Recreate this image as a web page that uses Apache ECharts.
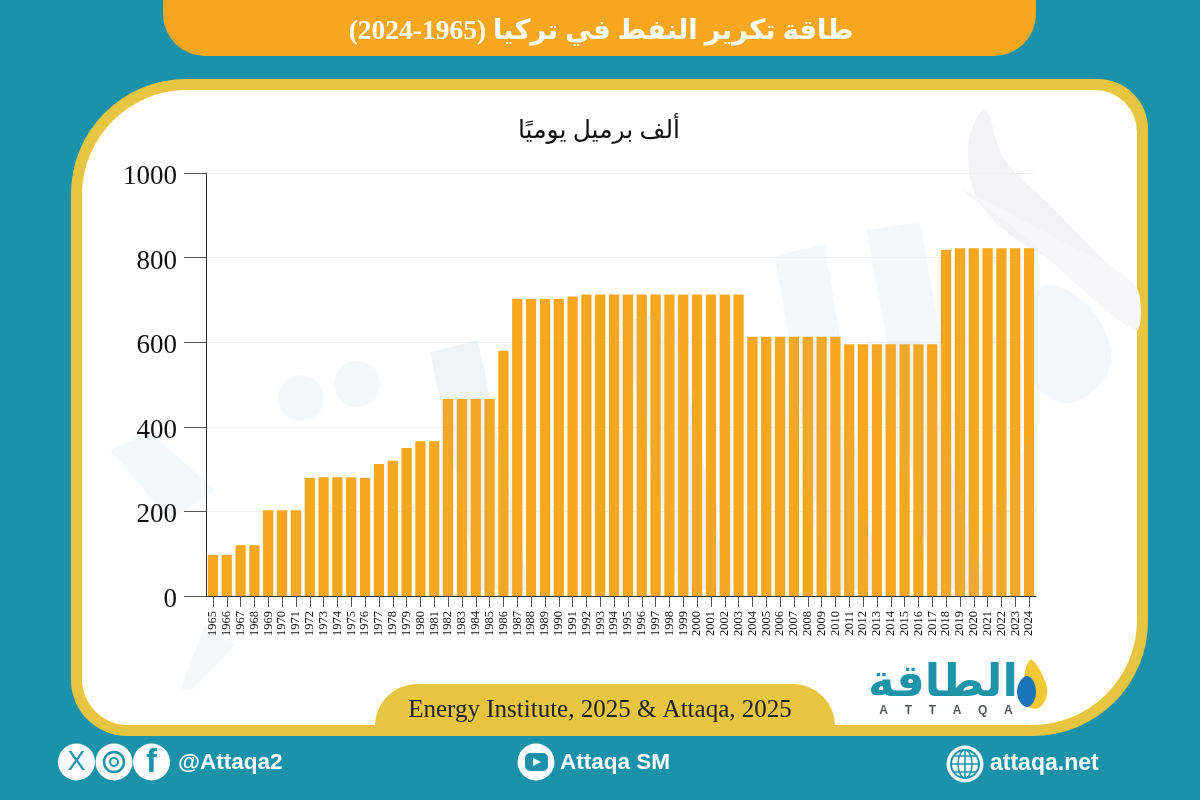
<!DOCTYPE html>
<html>
<head>
<meta charset="utf-8">
<style>
html, body { margin: 0; padding: 0; background: #1b92a9; }
#main { width: 1200px; height: 800px; }
</style>
<script src="https://cdn.jsdelivr.net/npm/echarts@6/dist/echarts.min.js"></script>
</head>
<body>
<div id="main"></div>
<script>
var years = ['1965','1966','1967','1968','1969','1970','1971','1972','1973','1974','1975','1976','1977','1978','1979','1980','1981','1982','1983','1984','1985','1986','1987','1988','1989','1990','1991','1992','1993','1994','1995','1996','1997','1998','1999','2000','2001','2002','2003','2004','2005','2006','2007','2008','2009','2010','2011','2012','2013','2014','2015','2016','2017','2018','2019','2020','2021','2022','2023','2024'];
var capacity = [97,97,120,120,203,203,203,279,281,281,281,279,312,320,350,366,366,466,466,466,466,580,702,702,702,702,708,713,713,713,713,713,713,713,713,713,713,713,713,613,613,613,613,613,613,613,595,595,595,595,595,595,595,818,822,822,822,822,822,822];
// digits run right to left after Arabic text, so this shows as (2024-1965)
var titleText = '\u202Bطاقة تكرير النفط في تركيا (1965-2024)\u202C';
var unitText = 'ألف برميل يوميًا';
var sourceText = 'Energy Institute, 2025 & Attaqa, 2025';

var TEAL = '#1b92a9', GOLD = '#e6c640', ORANGE = '#f8a71e', WASH = '#f5f8fb';
var serif = '"Liberation Serif", "DejaVu Sans", serif';
var sans = '"Liberation Sans", sans-serif';

function box(x, y, w, h, r, fill, z) {
	return { type: 'rect', z: z, shape: { x: x, y: y, width: w, height: h, r: r }, style: { fill: fill } };
}
function disc(x, y, r, fill, z) {
	return { type: 'circle', z: z, shape: { cx: x, cy: y, r: r }, style: { fill: fill } };
}
function quad(points, fill, z, opacity, smooth) {
	return { type: 'polygon', z: z, shape: { points: points, smooth: smooth || 0 }, style: { fill: fill, opacity: opacity === undefined ? 1 : opacity } };
}
function label(text, x, y, font, fill, align, z) {
	return { type: 'text', z: z, x: x, y: y, style: { text: text, font: font, fill: fill, align: align || 'left', verticalAlign: 'middle' } };
}
function ring(x, y, r, width, colour, z) {
	return { type: 'circle', z: z, shape: { cx: x, cy: y, r: r }, style: { fill: 'none', stroke: colour, lineWidth: width } };
}
function rule(x1, y1, x2, y2, colour, width, z) {
	return { type: 'line', z: z, shape: { x1: x1, y1: y1, x2: x2, y2: y2 }, style: { stroke: colour, lineWidth: width } };
}

var decor = [
	// frame
	box(71, 79, 1077, 657, [115, 50, 115, 56], GOLD, -9),
	box(82, 90, 1055, 635, [105, 42, 105, 46], '#ffffff', -8),
	// header and source pills
	box(163, 0, 873, 56, [0, 0, 42, 42], ORANGE, -7),
	box(375, 684, 460, 52, [42, 42, 0, 0], GOLD, -7),
	// watermark behind the bars
	disc(301, 398, 23, WASH, -6),
	disc(357, 384, 23, WASH, -6),
	quad([[430, 352], [478, 340], [530, 590], [480, 590]], WASH, -6),
	quad([[622, 322], [672, 310], [730, 590], [680, 590]], WASH, -6),
	quad([[775, 256], [825, 244], [880, 590], [830, 590]], WASH, -6),
	quad([[866, 230], [920, 222], [985, 590], [935, 590]], WASH, -6),
	quad([[110, 450], [150, 432], [215, 490], [170, 520]], WASH, -6),
	quad([[180, 690], [205, 625], [235, 645], [192, 690]], '#f6f7f8', -6),
	quad([[985, 110], [968, 150], [985, 210], [1060, 265], [1125, 290], [1060, 215], [1005, 160]], '#f3f3f5', -6, 1, 0.4),
	quad([[962, 190], [1010, 225], [1135, 330], [1135, 285], [1050, 235]], '#f7f7f9', -6, 1, 0.3),
	quad([[1050, 285], [1110, 345], [1080, 400], [1035, 385], [1025, 335]], '#f3f6fa', -6, 1, 0.5),
	// bar wash over the marks
	quad([[430, 352], [478, 340], [530, 596], [480, 596]], '#b9b9a8', 10, 0.06),
	quad([[622, 322], [672, 310], [730, 596], [680, 596]], '#b9b9a8', 10, 0.06),
	quad([[775, 340], [825, 340], [880, 596], [830, 596]], '#b9b9a8', 10, 0.07),
	quad([[866, 340], [920, 340], [985, 596], [935, 596]], '#b9b9a8', 10, 0.07),
	quad([[960, 596], [1036, 420], [1036, 596]], '#b9b9a8', 10, 0.08),
	// logo
	label('الطاقة', 943, 684, 'bold 45px "DejaVu Sans"', '#1f93a8', 'center', 5),
	label('A     T     T     A     Q     A', 946, 711, 'bold 12px ' + sans, '#55595c', 'center', 5),
	quad([[1030, 660], [1047, 688], [1039, 708], [1024, 702]], '#f2c933', 5, 1, 0.4),
	quad([[1027, 676], [1036, 692], [1027, 707], [1017, 692]], '#1c74b8', 6, 1, 0.5),
	// social row
	disc(76.5, 762, 18.5, '#ffffff', 5),
	disc(114, 762, 18.5, '#ffffff', 5),
	disc(151.5, 762, 18.5, '#ffffff', 5),
	label('X', 76.5, 763, '27px ' + sans, TEAL, 'center', 6),
	ring(114, 762, 10, 2.5, TEAL, 6),
	ring(114, 762, 4, 2, TEAL, 6),
	label('f', 151.5, 763, 'bold 33px ' + sans, TEAL, 'center', 6),
	label('@Attaqa2', 178, 763, 'bold 22.5px ' + sans, '#ffffff', 'left', 6),
	disc(536, 762, 18.5, '#ffffff', 5),
	box(525, 753, 23, 18, 5, TEAL, 6),
	quad([[533, 758], [541, 762], [533, 766]], '#ffffff', 7),
	label('Attaqa SM', 560, 763, 'bold 22.5px ' + sans, '#ffffff', 'left', 6),
	disc(965, 764, 18.5, '#ffffff', 5),
	ring(965, 764, 14, 2, TEAL, 6),
	{ type: 'ellipse', z: 6, shape: { cx: 965, cy: 764, rx: 7, ry: 14 }, style: { fill: 'none', stroke: TEAL, lineWidth: 1.5 } },
	rule(951, 764, 979, 764, TEAL, 1.5, 6),
	rule(965, 750, 965, 778, TEAL, 1.5, 6),
	rule(954, 756, 976, 756, TEAL, 1.5, 6),
	rule(954, 772, 976, 772, TEAL, 1.5, 6),
	label('attaqa.net', 990, 764, 'bold 23px ' + sans, '#ffffff', 'left', 6)
];

var chart = echarts.init(document.getElementById('main'), null, { renderer: 'canvas' });
chart.setOption({
	animation: false,
	backgroundColor: TEAL,
	title: [
		{ text: titleText, left: 596, top: 13, textAlign: 'center', textStyle: { color: '#ffffff', fontFamily: serif, fontWeight: 'bold', fontSize: 27.5 } },
		{ text: unitText, left: 594, top: 114, textAlign: 'center', textStyle: { color: '#111111', fontFamily: serif, fontWeight: 'normal', fontSize: 25 } },
		{ text: sourceText, left: 595, top: 693, textAlign: 'center', textStyle: { color: '#222222', fontFamily: serif, fontWeight: 'normal', fontSize: 25 } }
	],
	grid: { left: 206, right: 164, top: 173, bottom: 204 },
	xAxis: {
		type: 'category',
		data: years,
		z: 1,
		axisLine: { lineStyle: { color: '#333333', width: 1 } },
		axisTick: { show: true, alignWithLabel: true, length: 11, lineStyle: { color: '#555555' } },
		axisLabel: { interval: 0, rotate: 90, margin: 15, fontFamily: serif, fontSize: 12.5, color: '#111111' }
	},
	yAxis: {
		type: 'value',
		min: 0,
		max: 1000,
		interval: 200,
		z: 1,
		axisLine: { show: true, lineStyle: { color: '#333333', width: 1 } },
		axisTick: { show: true, length: 22, lineStyle: { color: '#555555' } },
		axisLabel: { margin: 29, verticalAlign: 'top', lineHeight: 8, fontFamily: serif, fontSize: 27, color: '#111111', formatter: function (v) { return String(v); } },
		splitLine: { lineStyle: { color: '#eef1f4', width: 1 } }
	},
	series: [{
		type: 'bar',
		data: capacity,
		barWidth: '74%',
		itemStyle: { color: ORANGE }
	}],
	graphic: { elements: decor }
});
</script>
</body>
</html>
